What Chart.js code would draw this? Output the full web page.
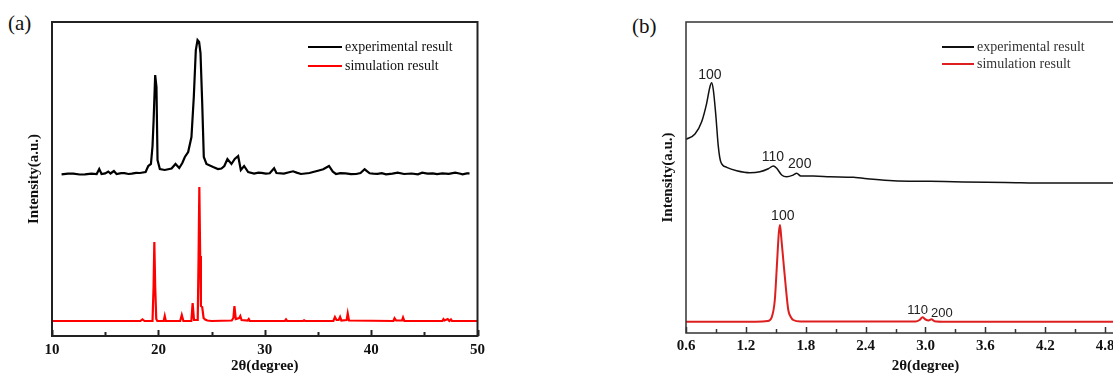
<!DOCTYPE html>
<html lang="en">
<head>
  <meta charset="UTF-8" />
  <title>XRD patterns (a) and (b)</title>
  <script src="https://cdn.jsdelivr.net/npm/chart.js"></script>
  <style>
    html, body { margin: 0; padding: 0; background: #fff; }
    body { width: 1113px; height: 376px; overflow: hidden; position: relative; font-family: 'Liberation Serif', 'Times New Roman', serif; }
    .panel { position: absolute; top: 0; }
    .tag { position: absolute; font-size: 21px; color: #111; }
  </style>
</head>
<body>

  <div class="tag" style="left:8px; top:11px;">(a)</div>
  <div class="tag" style="left:632px; top:14px;">(b)</div>

  <canvas id="chartA" class="panel" style="left:0px;" width="490" height="376"></canvas>
  <canvas id="chartB" class="panel" style="left:630px;" width="560" height="376"></canvas>

  <script>
    // ---- panel (a): wide-angle pattern ----
    const expA_x = [10.9, 11.5, 12.0, 12.6, 13.1, 13.7, 14.2, 14.44, 14.66, 15.0, 15.29, 15.5, 15.82, 16.07, 16.5, 16.8, 17.2, 17.5, 17.9, 18.26, 18.8, 19.05, 19.3, 19.45, 19.55, 19.7, 19.82, 19.92, 20.14, 20.6, 21.24, 21.61, 21.96, 22.25, 22.49, 22.8, 23.11, 23.33, 23.52, 23.68, 23.83, 23.96, 24.12, 24.27, 24.52, 25.15, 25.6, 25.93, 26.2, 26.49, 26.87, 27.18, 27.5, 27.75, 28.06, 28.44, 29.0, 29.4, 29.7, 30.1, 30.47, 30.88, 31.1, 31.8, 32.2, 32.66, 33.0, 33.4, 34.2, 35.0, 35.5, 36.04, 36.4, 36.7, 37.1, 37.6, 38.1, 38.6, 39.0, 39.39, 39.86, 40.2, 40.6, 41.0, 41.4, 42.0, 42.5, 43.1, 43.8, 44.4, 44.8, 45.3, 45.8, 46.2, 46.7, 47.3, 47.9, 48.3, 48.6, 49.0, 49.25];
    const expA_y = [161.7, 162.4, 162.3, 161.5, 161.6, 162.4, 162.0, 167.0, 162.0, 162.6, 164.5, 162.5, 165.0, 162.0, 162.9, 162.8, 162.0, 162.3, 163.2, 163.0, 164.0, 170.0, 172.0, 190.0, 215.0, 261.0, 249.0, 176.0, 167.0, 166.0, 167.5, 172.0, 168.0, 173.0, 179.0, 184.0, 199.0, 239.0, 286.0, 296.0, 294.0, 283.0, 233.0, 179.0, 172.0, 169.0, 167.0, 167.5, 170.0, 177.0, 172.0, 177.0, 180.0, 166.0, 170.0, 164.0, 162.5, 163.4, 163.2, 162.3, 162.7, 167.7, 163.0, 162.4, 163.5, 164.7, 163.4, 162.0, 163.0, 165.3, 166.7, 170.0, 164.3, 162.0, 162.9, 162.6, 161.8, 162.0, 163.0, 166.7, 162.7, 162.3, 162.2, 162.8, 161.7, 162.4, 163.3, 162.0, 162.5, 161.7, 163.3, 162.4, 162.7, 161.9, 162.7, 162.2, 163.3, 162.5, 161.7, 162.6, 162.7];

    const simA_x = [10, 18.3, 18.5, 18.7, 19.45, 19.55, 19.62, 19.7, 19.8, 19.9, 20.5, 20.6, 20.7, 22.05, 22.2, 22.35, 23.1, 23.22, 23.35, 23.7, 23.78, 23.85, 23.93, 24.0, 24.12, 24.25, 24.4, 24.6, 25.0, 26.9, 27.05, 27.15, 27.28, 27.6, 27.7, 27.82, 28.4, 28.5, 28.6, 31.9, 32.0, 32.1, 33.6, 33.7, 33.8, 36.45, 36.6, 36.75, 36.95, 37.08, 37.2, 37.7, 37.8, 37.92, 42.1, 42.2, 42.35, 42.9, 43.0, 43.12, 46.7, 46.8, 46.9, 47.2, 47.35, 47.5, 47.6, 50];
    const simA_y = [15, 15, 16.7, 15, 15, 50, 94, 50, 17, 15, 15, 20, 15, 15, 21, 15, 15, 33, 16, 16, 80, 149, 80, 30, 29, 18, 16.5, 15.5, 15, 15.5, 18, 30, 17, 18, 20, 16, 15.5, 17, 15, 15, 16.5, 15, 15, 15.7, 15, 15, 19, 16, 16, 19, 15.5, 16, 22.5, 15.5, 15, 17.7, 15.5, 15.5, 18.5, 15, 15, 16.8, 15.5, 17, 15, 16.5, 15, 15];

    // ---- panel (b): small-angle pattern ----
    const expB_x = [0.6, 0.69, 0.757, 0.807, 0.84, 0.857, 0.874, 0.9, 0.924, 0.948, 1.008, 1.108, 1.241, 1.341, 1.425, 1.475, 1.509, 1.559, 1.609, 1.675, 1.709, 1.75, 1.876, 2.043, 2.277, 2.477, 2.677, 3.045, 3.38, 3.8, 4.21, 4.88, 5.4];
    const expB_y = [193.7, 199, 211.3, 229.7, 246.3, 250.3, 243, 216.3, 186.3, 171.3, 165.7, 162.3, 160.3, 161.3, 164.3, 167, 164.7, 158, 156.3, 158, 159.7, 157, 157, 156.3, 155.7, 153.7, 152.3, 151.7, 151, 150.6, 150, 150, 150];

    const simB_x = [0.6, 1.3, 1.42, 1.46, 1.49, 1.51, 1.53, 1.542, 1.555, 1.575, 1.6, 1.625, 1.65, 1.675, 1.75, 2.6, 2.9, 2.94, 2.97, 3.0, 3.03, 3.06, 3.09, 3.2, 5.4];
    const simB_y = [11.3, 11.3, 12, 16, 33, 66, 100, 108, 95, 73, 46, 23, 16, 13, 11.5, 11.5, 11.5, 13, 15.7, 13.5, 12.5, 13.7, 11.8, 11.3, 11.3];

    // peak indices written on panel (b), anchored in data units
    const annoB_text = ['100', '110', '200', '100', '110', '200'];
    const annoB_x = [0.84, 1.47, 1.74, 1.57, 2.92, 3.165];
    const annoB_y = [258, 176, 169, 117, 23, 20];
    const annoB_size = [14, 14, 14, 14, 13, 13];

    const legendLabels = ['experimental result', 'simulation result'];

    const toPoints = (xs, ys) => xs.map((x, i) => ({ x: x, y: ys[i] }));

    Chart.defaults.font.family = "'Liberation Serif', 'Times New Roman', serif";
    Chart.defaults.color = '#000';

    // frame, inward ticks, legend and peak labels
    const decor = {
      id: 'decor',
      afterDraw(chart, args, o) {
        const { ctx, chartArea: a, scales: { x, y } } = chart;
        ctx.save();
        ctx.strokeStyle = o.frameColor;
        ctx.lineWidth = o.frameWidth;
        ctx.strokeRect(a.left, a.top, a.right - a.left, a.bottom - a.top);

        let k = 0;
        for (let v = x.min; v <= x.max + 1e-9; v += o.minorStep, k++) {
          const px = Math.round(x.getPixelForValue(v)) + 0.5;
          const len = k % 2 === 0 ? 6 : 4;
          ctx.beginPath();
          ctx.moveTo(px, a.bottom);
          ctx.lineTo(px, a.bottom - len);
          ctx.stroke();
        }

        // legend
        ctx.font = o.legendFont;
        ctx.textBaseline = 'middle';
        ctx.textAlign = 'left';
        chart.data.datasets.forEach((ds, i) => {
          const ly = o.legendY + i * o.legendGap;
          ctx.strokeStyle = ds.borderColor;
          ctx.lineWidth = 2;
          ctx.beginPath();
          ctx.moveTo(o.legendX, ly);
          ctx.lineTo(o.legendX + o.legendLine, ly);
          ctx.stroke();
          ctx.fillStyle = o.legendColor;
          ctx.fillText(ds.label, o.legendX + o.legendLine + 3, ly);
        });

        // peak labels
        if (o.anno) {
          ctx.fillStyle = '#222';
          ctx.textAlign = 'center';
          o.anno.text.forEach((t, i) => {
            ctx.font = o.anno.size[i] + "px 'Liberation Sans', Arial, sans-serif";
            ctx.fillText(t, x.getPixelForValue(o.anno.x[i]), y.getPixelForValue(o.anno.y[i]));
          });
        }
        ctx.restore();
      }
    };

    function makeScales(cfg) {
      return {
        x: {
          type: 'linear', min: cfg.xmin, max: cfg.xmax,
          ticks: {
            stepSize: cfg.step, padding: cfg.tickPad, color: '#111',
            font: { size: 15, weight: 'bold' },
            callback: v => cfg.digits ? v.toFixed(cfg.digits) : v
          },
          grid: { display: false, drawTicks: false },
          border: { display: false },
          title: { display: true, text: '2θ(degree)', color: '#111', font: { size: 15, weight: 'bold' }, padding: { top: 0, bottom: 1 } },
          afterFit: s => { s.height = cfg.xh; }
        },
        y: {
          min: 0, max: cfg.ymax,
          ticks: { display: false },
          grid: { display: false, drawTicks: false },
          border: { display: false },
          title: { display: true, text: 'Intensity(a.u.)', color: '#111', font: { size: 15, weight: 'bold' }, padding: { top: cfg.ytitlePad, bottom: 0 } },
          afterFit: s => { s.width = cfg.yw; }
        }
      };
    }

    // (a)
    new Chart(document.getElementById('chartA'), {
      type: 'line',
      data: {
        datasets: [
          { label: legendLabels[0], data: toPoints(expA_x, expA_y), borderColor: '#000', borderWidth: 2.2, pointRadius: 0, tension: 0 },
          { label: legendLabels[1], data: toPoints(simA_x, simA_y), borderColor: '#ff0000', borderWidth: 2.2, pointRadius: 0, tension: 0 }
        ]
      },
      options: {
        responsive: false, animation: false, devicePixelRatio: 1,
        layout: { padding: { top: 22, right: 12, left: 0, bottom: 0 } },
        scales: makeScales({ xmin: 10, xmax: 50, step: 10, digits: 0, ymax: 314, xh: 40, yw: 52, ytitlePad: 25, tickPad: 5 }),
        plugins: {
          legend: { display: false }, tooltip: { enabled: false },
          decor: {
            frameColor: '#222', frameWidth: 2, minorStep: 5,
            legendX: 308, legendY: 47, legendGap: 19, legendLine: 34,
            legendFont: "14px 'Liberation Serif', 'Times New Roman', serif", legendColor: '#111'
          }
        }
      },
      plugins: [decor]
    });

    // (b)
    new Chart(document.getElementById('chartB'), {
      type: 'line',
      data: {
        datasets: [
          { label: legendLabels[0], data: toPoints(expB_x, expB_y), borderColor: '#111', borderWidth: 1.5, pointRadius: 0, cubicInterpolationMode: 'monotone' },
          { label: legendLabels[1], data: toPoints(simB_x, simB_y), borderColor: '#dd1f1f', borderWidth: 2, pointRadius: 0, cubicInterpolationMode: 'monotone' }
        ]
      },
      options: {
        responsive: false, animation: false, devicePixelRatio: 1,
        layout: { padding: { top: 22, right: 25, left: 0, bottom: 0 } },
        scales: makeScales({ xmin: 0.6, xmax: 5.4, step: 0.6, digits: 1, ymax: 311, xh: 43, yw: 56, ytitlePad: 29, tickPad: 4 }),
        plugins: {
          legend: { display: false }, tooltip: { enabled: false },
          decor: {
            frameColor: '#333', frameWidth: 1.5, minorStep: 0.3,
            legendX: 312, legendY: 47, legendGap: 17, legendLine: 32,
            legendFont: "14px 'Liberation Serif', 'Times New Roman', serif", legendColor: '#333',
            anno: { text: annoB_text, x: annoB_x, y: annoB_y, size: annoB_size }
          }
        }
      },
      plugins: [decor]
    });
  </script>
</body>
</html>
